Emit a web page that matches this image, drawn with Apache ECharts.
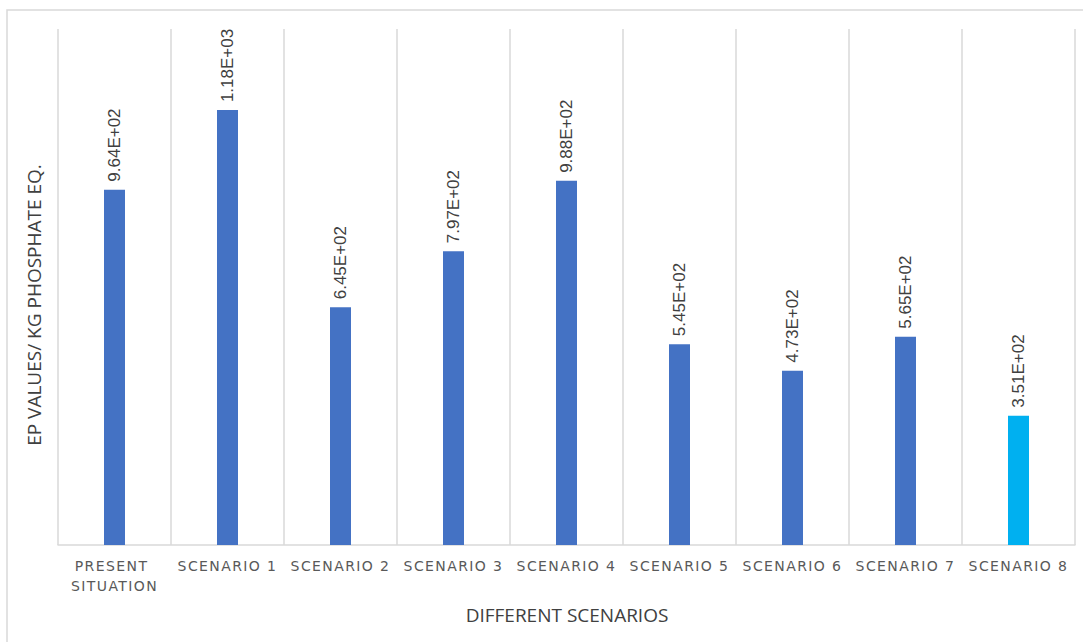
<!DOCTYPE html>
<html><head><meta charset="utf-8">
<script src="https://cdn.jsdelivr.net/npm/echarts@6/dist/echarts.min.js"></script>
<style>html,body{margin:0;padding:0;background:#fff}#c{width:1083px;height:642px}
#c svg text[style*="DejaVu"]{letter-spacing:1.4px}</style>
</head><body><div id="c"></div>
<script>
const categories = ['PRESENT SITUATION','SCENARIO 1','SCENARIO 2','SCENARIO 3','SCENARIO 4','SCENARIO 5','SCENARIO 6','SCENARIO 7','SCENARIO 8'];
const epValues = [964, 1180, 645, 797, 988, 545, 473, 565, 351];
const highlightIndex = 8;
const xAxisTitle = 'DIFFERENT SCENARIOS';
const yAxisTitle = 'EP VALUES/ KG PHOSPHATE EQ.';

function fmtExp(v) {
  const parts = v.toExponential(2).split('e');
  const n = parseInt(parts[1], 10);
  return parts[0] + 'E' + (n < 0 ? '-' : '+') + String(Math.abs(n)).padStart(2, '0');
}

const chart = echarts.init(document.getElementById('c'), null, { renderer: 'svg' });
chart.setOption({
  animation: false,
  backgroundColor: '#ffffff',
  grid: { left: 58, right: 8, top: 29, bottom: 97 },
  xAxis: {
    type: 'category',
    data: categories,
    axisLine: { lineStyle: { color: '#d9d9d9', width: 1.5 } },
    axisTick: { show: false },
    splitLine: { show: true, interval: 0, lineStyle: { color: '#d9d9d9', width: 1.5 } },
    axisLabel: {
      interval: 0, margin: 11, color: '#595959', fontSize: 14,
      fontFamily: 'DejaVu Sans', lineHeight: 20, width: 108, overflow: 'break'
    }
  },
  yAxis: {
    type: 'value', min: 0, max: 1400,
    axisLabel: { show: false }, axisLine: { show: false },
    axisTick: { show: false }, splitLine: { show: false }
  },
  graphic: [
    { type: 'rect', shape: { x: 7, y: 10, width: 1200, height: 800 }, style: { fill: 'none', stroke: '#d9d9d9', lineWidth: 1.5 }, silent: true, z: -1 },
    { type: 'text', x: 567, y: 615, style: { text: xAxisTitle, font: '19px "Open Sans"', fill: '#404040', align: 'center', verticalAlign: 'middle' } },
    { type: 'text', x: 34, y: 305, rotation: Math.PI / 2, style: { text: yAxisTitle, font: '19px "Open Sans"', fill: '#404040', align: 'center', verticalAlign: 'middle' } }
  ],
  series: [{
    type: 'bar',
    data: epValues,
    barWidth: 21,
    itemStyle: { color: p => p.dataIndex === highlightIndex ? '#00B0F0' : '#4472C4' },
    label: {
      show: true, position: 'top', rotate: 90, align: 'left', verticalAlign: 'middle',
      distance: 8, fontSize: 17, color: '#404040', fontFamily: 'Liberation Sans',
      formatter: p => fmtExp(p.value)
    }
  }]
});
</script></body></html>
